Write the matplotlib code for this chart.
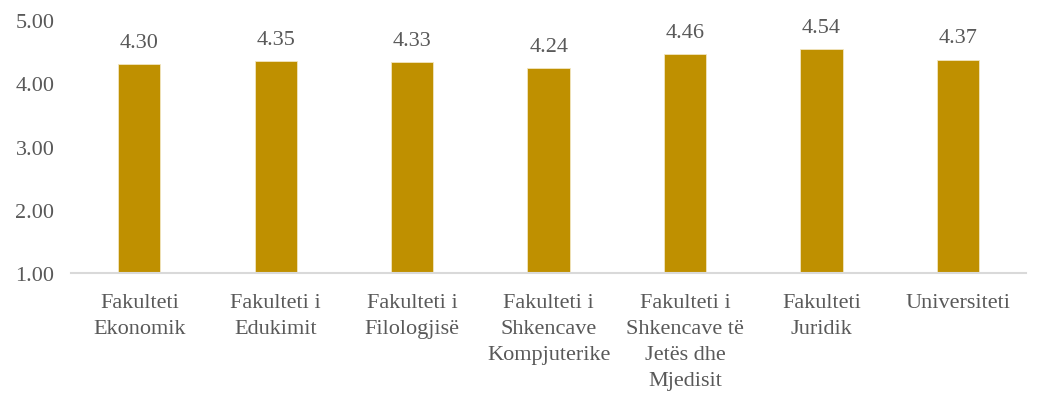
import matplotlib.pyplot as plt

categories = ["Fakulteti\nEkonomik", "Fakulteti i\nEdukimit", "Fakulteti i\nFilologjisë",
              "Fakulteti i\nShkencave\nKompjuterike", "Fakulteti i\nShkencave të\nJetës dhe\nMjedisit",
              "Fakulteti\nJuridik", "Universiteti"]
values = [4.30, 4.35, 4.33, 4.24, 4.46, 4.54, 4.37]
yticks = [1.0, 2.0, 3.0, 4.0, 5.0]

plt.rcParams['font.family'] = ['Liberation Serif', 'DejaVu Serif']
grey = '#595959'

fig = plt.figure(figsize=(10.46, 4.14), dpi=100)
ax = fig.add_axes([0.068, 0.338, 0.913, 0.611])

x = range(len(categories))
bars = ax.bar(x, [v - 1 for v in values], bottom=1, width=0.31, color='#BF9000',
              edgecolor='#f2e6c0', linewidth=0.6)
for xi, v in zip(x, values):
    ax.text(xi, v + 0.2, f"{v:.2f}", ha='center', va='bottom', fontsize=16, color=grey)

ax.set_xlim(-0.5, len(categories) - 0.5)
ax.set_ylim(1, 5)
ax.set_yticks(yticks)
ax.set_yticklabels([f"{t:.2f}" for t in yticks], fontsize=16, color=grey)
ax.set_xticks(list(x))
ax.set_xticklabels(categories, fontsize=16, color=grey, linespacing=1.5)
ax.tick_params(length=0)
ax.tick_params(axis='x', pad=14)
ax.tick_params(axis='y', pad=12)
for s in ['top', 'right', 'left']:
    ax.spines[s].set_visible(False)
ax.spines['bottom'].set_color('#d9d9d9')
ax.spines['bottom'].set_linewidth(1.5)

fig.savefig('out.png', dpi=100)
